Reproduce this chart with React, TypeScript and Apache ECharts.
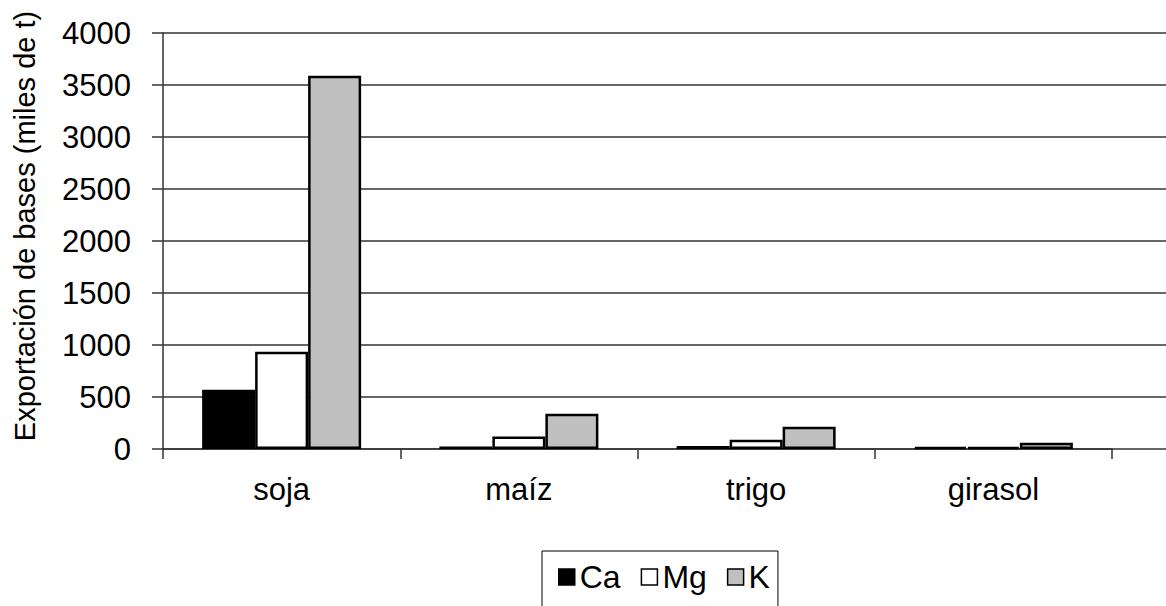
import React, { useEffect, useRef } from "react";
import * as echarts from "echarts";

const categories = ["soja", "maíz", "trigo", "girasol"];
const caValues = [570, 25, 30, 18];
const mgValues = [935, 120, 90, 20];
const kValues = [3590, 340, 215, 60];
const yTicks = { min: 0, max: 4000, interval: 500 };
const yTitle = "Exportación de bases (miles de t)";

const FONT = "'Liberation Sans', Arial, sans-serif";

export default function App() {
  const ref = useRef<HTMLDivElement>(null);
  useEffect(() => {
    if (!ref.current) return;
    const chart = echarts.init(ref.current, undefined, { renderer: "svg" });
    const lineColor = "#333";
    const barBorder = { borderColor: "#000", borderWidth: 2.5 };
    chart.setOption({
      animation: false,
      backgroundColor: "#fff",
      textStyle: { fontFamily: FONT },
      grid: [
        { left: 163, right: 0, top: 33, bottom: 157 },
        { left: 163, right: 54, top: 33, bottom: 157 },
      ],
      xAxis: [
        { gridIndex: 0, type: "value", min: 0, max: 1, show: false },
        {
          gridIndex: 1,
          type: "category",
          data: categories,
          axisLine: { show: true, lineStyle: { color: lineColor, width: 1.5 } },
          axisTick: { show: true, length: 10, alignWithLabel: false, lineStyle: { color: lineColor, width: 1.5 } },
          axisLabel: { fontSize: 31, color: "#000", margin: 25, fontFamily: FONT },
        },
      ],
      yAxis: [
        {
          gridIndex: 0,
          type: "value",
          min: yTicks.min,
          max: yTicks.max,
          interval: yTicks.interval,
          axisLine: { show: true, lineStyle: { color: lineColor, width: 1.5 } },
          axisTick: { show: true, length: 11, lineStyle: { color: lineColor, width: 1.5 } },
          axisLabel: {
            fontSize: 31,
            color: "#000",
            margin: 32,
            fontFamily: FONT,
            formatter: (v: number) => String(v),
          },
          splitLine: { show: true, lineStyle: { color: lineColor, width: 1.5 } },
        },
        {
          gridIndex: 1,
          type: "value",
          min: yTicks.min,
          max: yTicks.max,
          interval: yTicks.interval,
          show: false,
          splitLine: { show: false },
        },
      ],
      legend: {
        left: 542,
        top: 551,
        orient: "horizontal",
        icon: "rect",
        itemWidth: 16,
        itemHeight: 16,
        itemGap: 20,
        padding: [10, 8, 40, 16],
        borderColor: "#000",
        borderWidth: 1,
        backgroundColor: "#fff",
        textStyle: { fontSize: 32, color: "#000", fontFamily: FONT },
        itemStyle: { borderColor: "#000", borderWidth: 1.5 },
        data: ["Ca", "Mg", "K"],
      },
      graphic: [
        {
          type: "text",
          x: 10,
          y: 226,
          rotation: Math.PI / 2,
          style: {
            text: yTitle,
            font: `29px ${FONT}`,
            fill: "#000",
            textAlign: "center",
            textVerticalAlign: "top",
          },
        },
      ],
      series: [
        {
          name: "Ca",
          type: "bar",
          xAxisIndex: 1,
          yAxisIndex: 1,
          data: caValues,
          barWidth: 53,
          barGap: "0%",
          itemStyle: { color: "#000", ...barBorder },
        },
        {
          name: "Mg",
          type: "bar",
          xAxisIndex: 1,
          yAxisIndex: 1,
          data: mgValues,
          barWidth: 53,
          barGap: "0%",
          itemStyle: { color: "#fff", ...barBorder },
        },
        {
          name: "K",
          type: "bar",
          xAxisIndex: 1,
          yAxisIndex: 1,
          data: kValues,
          barWidth: 53,
          barGap: "0%",
          itemStyle: { color: "#c0c0c0", ...barBorder },
        },
      ],
    });
    return () => chart.dispose();
  }, []);
  return (
    <div
      ref={ref}
      style={{ position: "fixed", left: 0, top: 0, width: 1166, height: 606, background: "#fff" }}
    />
  );
}
